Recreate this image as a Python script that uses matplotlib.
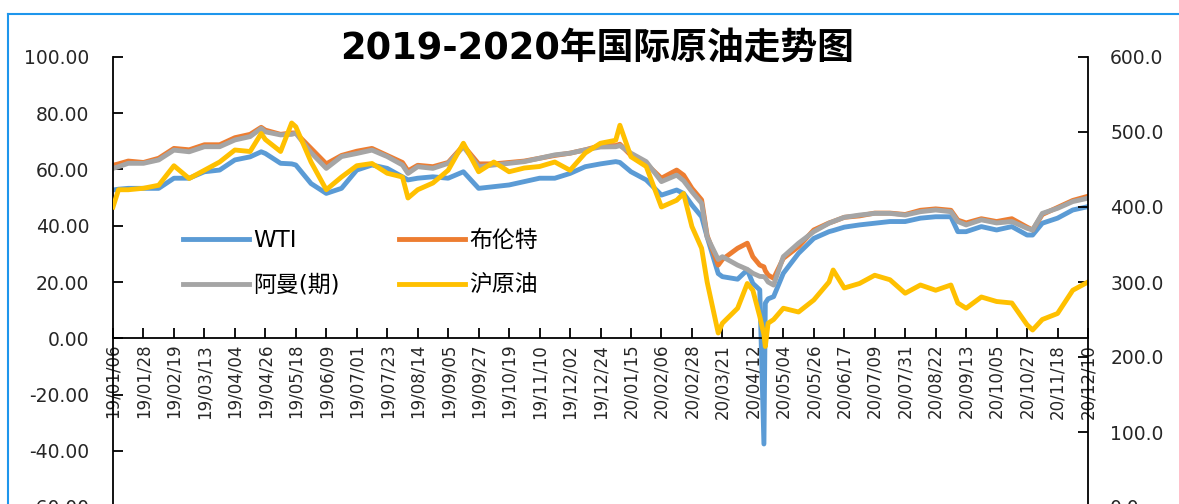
import pandas as pd
import matplotlib
matplotlib.use("Agg")
import matplotlib.pyplot as plt
import matplotlib.dates as mdates
from matplotlib.lines import Line2D
from matplotlib.ticker import FormatStrFormatter, MultipleLocator

plt.rcParams['font.family'] = ['DejaVu Sans', 'Noto Sans CJK SC']

# dates (irregular, extra points at visible turns)
dates = ["2019-01-06", "2019-01-10", "2019-01-17", "2019-01-28", "2019-02-08", "2019-02-19",
         "2019-03-02", "2019-03-13", "2019-03-24", "2019-04-04", "2019-04-15", "2019-04-23",
         "2019-04-26", "2019-05-07", "2019-05-15", "2019-05-18", "2019-05-29", "2019-06-09",
         "2019-06-20", "2019-07-01", "2019-07-12", "2019-07-23", "2019-08-03", "2019-08-07",
         "2019-08-14", "2019-08-25", "2019-09-05", "2019-09-16", "2019-09-27", "2019-10-08",
         "2019-10-19", "2019-10-30", "2019-11-10", "2019-11-21", "2019-12-02", "2019-12-13",
         "2019-12-24", "2020-01-04", "2020-01-07", "2020-01-15", "2020-01-26", "2020-02-06",
         "2020-02-17", "2020-02-22", "2020-02-28", "2020-03-06", "2020-03-10", "2020-03-18",
         "2020-03-21", "2020-04-01", "2020-04-08", "2020-04-12", "2020-04-17", "2020-04-20",
         "2020-04-21", "2020-04-23", "2020-04-27", "2020-05-04", "2020-05-15", "2020-05-26",
         "2020-06-06", "2020-06-09", "2020-06-17", "2020-06-28", "2020-07-09", "2020-07-20",
         "2020-07-31", "2020-08-11", "2020-08-22", "2020-09-02", "2020-09-07", "2020-09-13",
         "2020-09-24", "2020-10-05", "2020-10-16", "2020-10-27", "2020-10-31", "2020-11-07",
         "2020-11-18", "2020-11-29", "2020-12-10"]

wti = [52.7, 53.0, 53.3, 53.3, 53.3, 56.9, 56.9, 59.2, 59.8, 63.4, 64.5, 66.3,
       65.7, 62.2, 62.0, 61.6, 55.0, 51.5, 53.3, 59.8, 61.6, 60.4, 57.4, 56.3,
       56.9, 57.4, 56.9, 59.2, 53.3, 53.9, 54.5, 55.7, 56.9, 56.9, 58.6, 61.0,
       62.0, 62.8, 62.5, 59.2, 56.3, 50.9, 52.7, 51.5, 47.4, 43.2, 36.0, 23.0,
       21.9, 21.0, 24.3, 19.5, 17.2, -37.6, 12.5, 14.0, 14.8, 23.1, 30.2, 35.5,
       37.9, 38.3, 39.5, 40.3, 40.9, 41.5, 41.5, 42.7, 43.2, 43.2, 37.9, 37.9,
       39.7, 38.5, 39.7, 36.7, 36.7, 40.9, 42.7, 45.6, 46.8]

brent = [61.5, 62.0, 63.0, 62.5, 64.0, 67.5, 67.0, 68.8, 68.8, 71.3, 72.5, 75.0,
         74.0, 72.5, 73.0, 73.0, 67.5, 62.0, 65.0, 66.5, 67.5, 65.0, 62.5, 59.5,
         61.5, 61.0, 62.5, 68.5, 62.0, 62.0, 62.5, 63.0, 64.0, 65.0, 65.8, 67.0,
         68.5, 68.5, 69.0, 65.0, 62.0, 56.9, 59.8, 58.0, 53.3, 49.2, 36.5, 26.0,
         28.0, 32.0, 33.8, 29.0, 26.0, 25.4, 24.0, 22.5, 21.3, 28.4, 32.6, 38.5,
         41.0, 41.5, 43.0, 43.5, 44.5, 44.5, 44.0, 45.5, 46.0, 45.5, 42.0, 41.0,
         42.5, 41.5, 42.5, 39.5, 38.5, 44.0, 46.5, 49.0, 50.5]

oman = [60.4, 61.0, 62.2, 62.2, 63.4, 66.9, 66.3, 68.1, 68.1, 70.5, 71.7, 74.6,
        73.4, 72.3, 72.5, 72.9, 66.0, 60.4, 64.6, 65.7, 66.9, 64.6, 61.6, 58.6,
        61.0, 60.4, 62.2, 68.1, 61.0, 61.6, 62.2, 62.8, 64.0, 65.2, 65.8, 67.0,
        68.0, 68.1, 68.5, 65.8, 62.8, 55.7, 58.0, 56.0, 52.1, 48.0, 36.0, 28.0,
        29.0, 26.0, 24.5, 23.1, 22.0, 21.9, 21.5, 20.0, 18.9, 29.0, 33.8, 37.9,
        40.9, 41.5, 43.0, 43.8, 44.4, 44.4, 43.8, 45.0, 45.6, 45.0, 41.5, 40.3,
        42.1, 41.0, 41.5, 39.1, 38.5, 44.4, 46.2, 48.6, 49.8]

# 沪原油, right axis
sc = [400, 423, 423, 425, 429, 455, 438, 449, 460, 476, 474, 498,
      490, 474, 512, 507, 460, 423, 440, 455, 458, 445, 440, 412,
      423, 432, 449, 485, 447, 460, 447, 452, 454, 460, 449, 472,
      485, 489, 509, 467, 454, 400, 409, 418, 374, 345, 300, 232,
      245, 265, 298, 289, 254, 230, 214, 245, 250, 265, 260, 276,
      300, 316, 292, 298, 309, 303, 285, 296, 289, 296, 272, 265,
      280, 274, 272, 243, 236, 250, 258, 289, 300]

names = ["WTI", "布伦特", "阿曼(期)", "沪原油"]
colors = ["#5B9BD5", "#ED7D31", "#A5A5A5", "#FFC000"]

x = pd.to_datetime(dates)
start, end = pd.Timestamp("2019-01-06"), pd.Timestamp("2020-12-10")
ticks = pd.date_range(start, end, freq="22D")

fig = plt.figure(figsize=(11.79, 5.04), dpi=100)
ax = fig.add_axes([113 / 1179, -3 / 504, 975 / 1179, 450 / 504])
ax2 = ax.twinx()

lw = 3.5
l1, = ax.plot(x, wti, color=colors[0], lw=lw, label=names[0])
l2, = ax.plot(x, brent, color=colors[1], lw=lw, label=names[1])
l3, = ax.plot(x, oman, color=colors[2], lw=lw, label=names[2])
l4, = ax2.plot(x, sc, color=colors[3], lw=lw, label=names[3])

ax.set_xlim(start, end)
ax.set_ylim(-60, 100)
ax2.set_ylim(0, 600)
ax.yaxis.set_major_locator(MultipleLocator(20))
ax.yaxis.set_major_formatter(FormatStrFormatter('%.2f'))
ax2.yaxis.set_major_locator(MultipleLocator(100))
ax2.yaxis.set_major_formatter(FormatStrFormatter('%.1f'))

ax.set_xticks(ticks)
ax.xaxis.set_major_formatter(mdates.DateFormatter('%y/%m/%d'))

for a in (ax, ax2):
    a.patch.set_visible(False)
    a.spines['top'].set_visible(False)
ax.spines['right'].set_visible(False)
ax2.spines['left'].set_visible(False)
ax2.spines['bottom'].set_visible(False)
ax.spines['bottom'].set_position(('data', 0))
for s in ['left', 'bottom']:
    ax.spines[s].set_linewidth(1.3)
ax2.spines['right'].set_linewidth(1.3)

tc = '#262626'
ax.tick_params(axis='x', direction='in', length=7, width=1.3, pad=4,
               labelsize=12, labelrotation=90, labelcolor=tc)
ax.tick_params(axis='y', direction='in', length=7, width=1.3, pad=17,
               labelsize=13.5, labelcolor=tc)
ax2.tick_params(axis='y', direction='in', length=7, width=1.3, pad=16,
                labelsize=13.5, labelcolor=tc)

fig.text(597 / 1179, 1 - 48 / 504, "2019-2020年国际原油走势图",
         ha='center', va='center', fontsize=26.5, fontweight='bold', color='black')

ax2.legend([l1, l3, l2, l4], [names[0], names[2], names[1], names[3]],
           ncol=2, frameon=False, fontsize=16.5,
           loc='upper left', bbox_to_anchor=(183 / 1179, 1 - 229 / 504),
           bbox_transform=fig.transFigure, borderpad=0, borderaxespad=0,
           handlelength=2.9, handletextpad=0.15, columnspacing=2.6,
           labelspacing=0.95)

# blue chart-area frame
fc = '#1E96EC'
fig.add_artist(Line2D([8 / 1179, 8 / 1179], [0, 1 - 14 / 504], color=fc,
                      lw=1.5, transform=fig.transFigure))
fig.add_artist(Line2D([8 / 1179, 1], [1 - 14 / 504, 1 - 14 / 504], color=fc,
                      lw=1.5, transform=fig.transFigure))

fig.savefig("out.png", dpi=100)
